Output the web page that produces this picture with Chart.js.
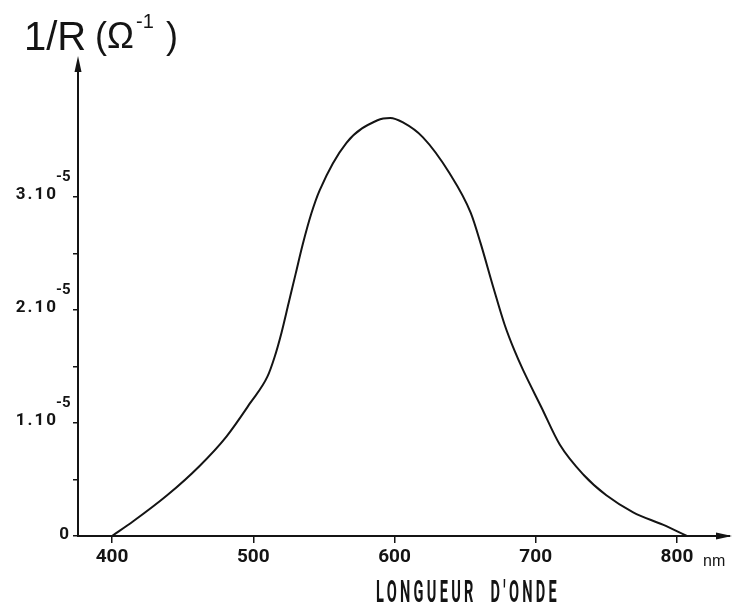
<!DOCTYPE html>
<html lang="fr">
<head>
<meta charset="UTF-8">
<title>1/R en fonction de la longueur d'onde</title>
<script src="https://cdn.jsdelivr.net/npm/chart.js"></script>
<style>
  html, body { margin: 0; padding: 0; background: #fff; }
</style>
</head>
<body>
<canvas id="spectre" width="734" height="605"></canvas>
<script>
// longueur d'onde (nm) et 1/R en unites de 1e-5 ohm^-1
const wavelength = [400, 415, 439, 462, 481, 498, 510, 515, 520, 525, 530, 535, 541, 547, 566, 588, 597, 606, 620, 639, 654, 661, 670, 678, 685, 691, 704, 717, 734, 750, 769, 790, 807];
const conductance = [0, 0.13, 0.36, 0.62, 0.88, 1.18, 1.41, 1.58, 1.80, 2.06, 2.32, 2.58, 2.85, 3.06, 3.48, 3.68, 3.70, 3.66, 3.53, 3.21, 2.86, 2.59, 2.20, 1.87, 1.64, 1.47, 1.14, 0.81, 0.54, 0.36, 0.21, 0.10, 0];

const xTicks = [400, 500, 600, 700, 800];
const yTicks = [0, 0.5, 1, 1.5, 2, 2.5, 3];
const yMajor = [0, 1, 2, 3];
const yLabels = ['0', '1.10', '2.10', '3.10'];
const yExponent = '-5';

const ink = '#141414';
const bold = "Roboto, 'DejaVu Sans', sans-serif";
const plain = "'Liberation Sans', Arial, sans-serif";

const points = wavelength.map((w, i) => ({ x: w, y: conductance[i] }));

// texte et fleches dessines par dessus le graphe
const decor = {
  id: 'decor',
  afterDraw(chart) {
    const ctx = chart.ctx;
    const area = chart.chartArea;
    const ys = chart.scales.y;
    ctx.save();
    ctx.fillStyle = ink;

    // titre de l'axe vertical
    ctx.textBaseline = 'alphabetic';
    ctx.textAlign = 'left';
    ctx.font = '40px ' + plain;
    ctx.fillText('1/R', 24, 50);
    ctx.font = '36px ' + plain;
    ctx.fillText('(', 95, 48);
    ctx.fillText('Ω', 107, 48);
    ctx.fillText(')', 166, 48);
    ctx.font = '20px ' + plain;
    ctx.fillText('-1', 136, 28);

    // etiquettes de l'axe vertical
    yMajor.forEach((v, i) => {
      const py = ys.getPixelForValue(v);
      ctx.textAlign = 'right';
      ctx.textBaseline = 'middle';
      ctx.font = 'bold 17px ' + bold;
      if (v === 0) {
        ctx.fillText(yLabels[i], 69, py - 1);
      } else {
        ctx.letterSpacing = '2px';
        ctx.fillText(yLabels[i], 58, py - 2);
        ctx.letterSpacing = '0px';
        ctx.textAlign = 'left';
        ctx.font = 'bold 15px ' + bold;
        ctx.fillText(yExponent, 56, py - 20);
      }
    });

    // unite et titre de l'axe horizontal
    ctx.textAlign = 'left';
    ctx.textBaseline = 'alphabetic';
    ctx.font = '16px ' + plain;
    ctx.fillText('nm', 703, 566);

    ctx.font = 'bold 31px ' + bold;
    ctx.letterSpacing = '7px';
    const label = "LONGUEUR  D'ONDE";
    const w = ctx.measureText(label).width;
    ctx.translate(376, 602);
    ctx.scale(184 / w, 1);
    ctx.fillText(label, 0, 0);
    ctx.setTransform(1, 0, 0, 1, 0, 0);
    ctx.letterSpacing = '0px';

    // fleches
    ctx.beginPath();
    ctx.moveTo(area.left, area.top - 10);
    ctx.lineTo(area.left - 3.5, area.top + 6);
    ctx.lineTo(area.left + 3.5, area.top + 6);
    ctx.closePath();
    ctx.fill();
    ctx.fillRect(area.left - 1, area.top - 2, 2, 8);

    ctx.fillRect(area.right - 2, area.bottom - 1, 10, 2);
    ctx.beginPath();
    ctx.moveTo(area.right + 10, area.bottom);
    ctx.lineTo(area.right - 6, area.bottom - 3.5);
    ctx.lineTo(area.right - 6, area.bottom + 3.5);
    ctx.closePath();
    ctx.fill();
    ctx.restore();
  }
};

new Chart(document.getElementById('spectre'), {
  type: 'scatter',
  data: {
    datasets: [{
      data: points,
      showLine: true,
      borderColor: ink,
      borderWidth: 2,
      pointRadius: 0,
      cubicInterpolationMode: 'monotone'
    }]
  },
  options: {
    responsive: false,
    animation: false,
    layout: { padding: { top: 66, right: 12, left: 0, bottom: 0 } },
    plugins: { legend: { display: false }, tooltip: { enabled: false } },
    scales: {
      x: {
        type: 'linear',
        min: 375.9,
        max: 831.9,
        afterBuildTicks: s => { s.ticks = xTicks.map(v => ({ value: v })); },
        afterFit: s => { s.height = 69; },
        grid: { drawOnChartArea: false, drawTicks: true, tickLength: 7, color: ink, lineWidth: 1.5 },
        border: { color: ink, width: 2 },
        ticks: {
          color: ink,
          padding: 3,
          autoSkip: false,
          maxRotation: 0,
          font: { family: bold, size: 19, weight: 'bold' }
        }
      },
      y: {
        min: 0,
        max: 4.16,
        afterBuildTicks: s => { s.ticks = yTicks.map(v => ({ value: v })); },
        afterFit: s => { s.width = 78; },
        grid: { drawOnChartArea: false, drawTicks: true, tickLength: 5, color: ink, lineWidth: 1.5 },
        border: { color: ink, width: 2 },
        ticks: { display: false }
      }
    }
  },
  plugins: [decor]
});
</script>
</body>
</html>
